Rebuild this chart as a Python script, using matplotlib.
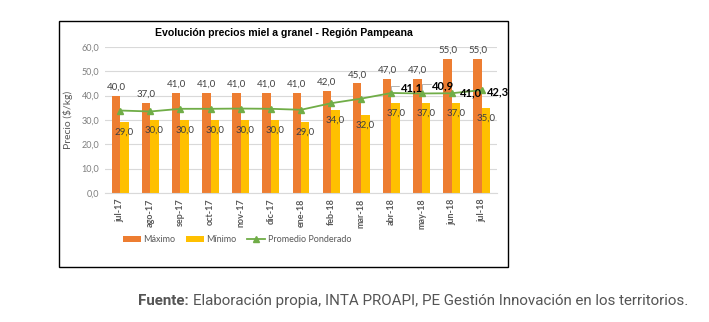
import numpy as np
import matplotlib
matplotlib.use("Agg")
import matplotlib.pyplot as plt
from matplotlib.patches import Rectangle

meses = ["jul-17", "ago-17", "sep-17", "oct-17", "nov-17", "dic-17", "ene-18",
         "feb-18", "mar-18", "abr-18", "may-18", "jun-18", "jul-18"]
maximo = [40, 37, 41, 41, 41, 41, 41, 42, 45, 47, 47, 55, 55]
minimo = [29, 30, 30, 30, 30, 30, 29, 34, 32, 37, 37, 37, 35]
promedio = [33.9, 33.5, 34.6, 34.6, 34.7, 34.6, 34.2, 36.9, 38.8, 41.1, 40.9, 41.0, 42.3]
yticks = [0, 10, 20, 30, 40, 50, 60]

naranja = "#ED7D31"
amarillo = "#FFC000"
verde = "#70AD47"
gris = "#595959"

def coma(v):
    return f"{v:.1f}".replace(".", ",")

fig = plt.figure(figsize=(7.09, 3.22), dpi=100)
fig.patch.set_facecolor("white")

# marco del gráfico
fig.patches.append(Rectangle((59 / 709, 1 - 267 / 322), (508 - 59) / 709, (267 - 21) / 322,
                             transform=fig.transFigure, fill=False, edgecolor="black", lw=1.0))

ax = fig.add_axes([105 / 709, 1 - 193 / 322, (497 - 105) / 709, (193 - 47) / 322])
x = np.arange(len(meses))
w = 0.28
b1 = ax.bar(x - w / 2, maximo, w, color=naranja, label="Máximo", zorder=2)
b2 = ax.bar(x + w / 2, minimo, w, color=amarillo, label="Mínimo", zorder=2)
ln, = ax.plot(x, promedio, color=verde, marker="^", ms=4.5, lw=1.3,
              label="Promedio Ponderado", zorder=3)

ax.set_xlim(-0.5, len(meses) - 0.5)
ax.set_ylim(0, 60)
ax.set_yticks(yticks)
ax.set_yticklabels([coma(v) for v in yticks], fontsize=6.5, color="#7F7F7F", family="Lato")
ax.set_xticks(x)
ax.set_xticklabels(meses, rotation=90, fontsize=6.5, color=gris, family="Lato", fontweight="bold")
ax.tick_params(axis="both", length=0, pad=4)
ax.grid(axis="y", color="#D9D9D9", lw=0.8, zorder=0)
for s in ["top", "right", "left"]:
    ax.spines[s].set_visible(False)
ax.spines["bottom"].set_color("#D9D9D9")
ax.set_ylabel("Precio ($/kg)", fontsize=7.5, color=gris, family="Lato", labelpad=6)

# etiquetas de barras
for i in x:
    ax.annotate(coma(maximo[i]), (i - w / 2, maximo[i]), xytext=(0, 3), textcoords="offset points",
                ha="center", va="bottom", fontsize=7, color="#404040", family="Lato")
    ax.annotate(coma(minimo[i]), (i + w / 2, minimo[i]), xytext=(0, -4), textcoords="offset points",
                ha="center", va="top", fontsize=7, color="#404040", family="Lato")

# etiquetas del promedio (últimos meses)
offs = {9: (6.5, 3.5), 10: (7.5, 5.5), 11: (6, 0.5), 12: (3.6, -1.2)}
for i, (dx, dy) in offs.items():
    ax.annotate(coma(promedio[i]), (i, promedio[i]), xytext=(dx, dy), textcoords="offset points",
                ha="left", va="center", fontsize=8, fontweight="bold", color="black", family="Lato")
# líneas guía
for i in (9, 10):
    dx, dy = offs[i]
    ax.annotate("", (i, promedio[i]), xytext=(dx - 0.8, dy + 1.5), textcoords="offset points",
                arrowprops=dict(arrowstyle="-", color="#A6A6A6", lw=0.6, shrinkA=0, shrinkB=2.5,
                                connectionstyle="angle,angleA=0,angleB=90,rad=0"))

fig.text(284 / 709, 1 - 33 / 322, "Evolución precios miel a granel - Región Pampeana",
         ha="center", va="center", fontsize=7.6, fontweight="bold", family="Liberation Sans")

leg = fig.legend(handles=[b1, b2, ln], loc="center", bbox_to_anchor=(237 / 709, 1 - 240 / 322),
                 ncol=3, frameon=False, handlelength=2.0, handleheight=0.6,
                 columnspacing=1.2, handletextpad=0.25, prop={"family": "Lato", "size": 6.5})
for t in leg.get_texts():
    t.set_color(gris)

t1 = fig.text(138 / 709, 1 - 301 / 322, "Fuente:", fontsize=10.9, color="#555555",
              va="center", ha="left", family="Roboto", fontweight="bold")
fig.canvas.draw()
bb = t1.get_window_extent()
fig.text((bb.x1 + 4) / 709, 1 - 301 / 322,
         "Elaboración propia, INTA PROAPI, PE Gestión Innovación en los territorios.",
         fontsize=10.9, color="#555555", va="center", ha="left", family="Roboto")

fig.savefig("out.png", dpi=100)
